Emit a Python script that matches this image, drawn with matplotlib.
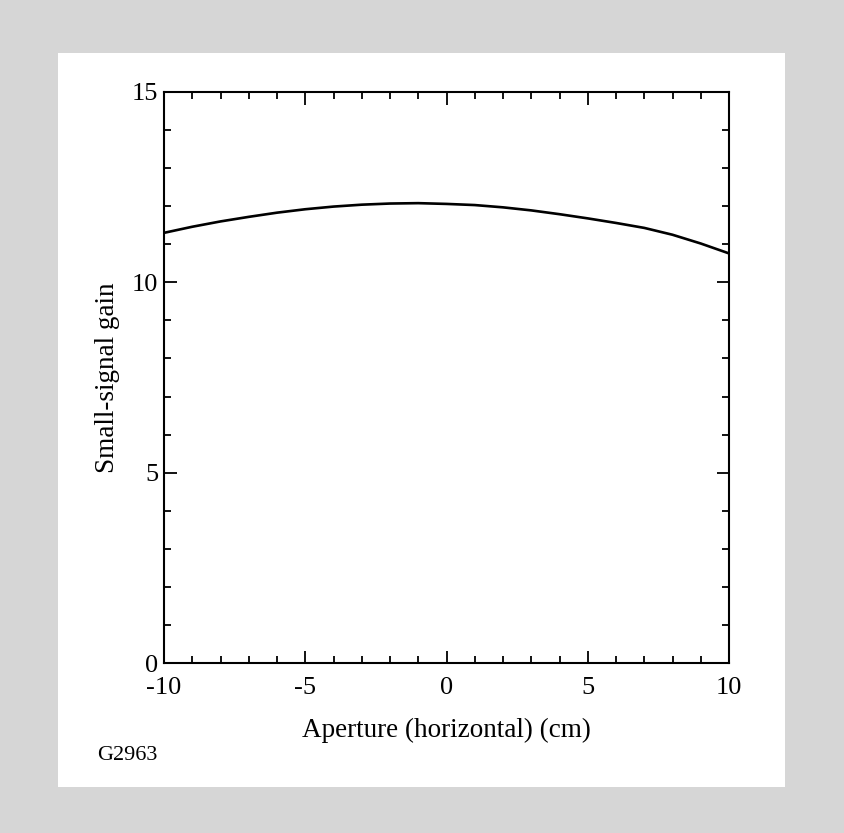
import matplotlib.pyplot as plt
from matplotlib.patches import Rectangle
from matplotlib.ticker import MultipleLocator

# aperture position (cm) and small-signal gain
aperture = [-10, -9, -8, -7, -6, -5, -4, -3, -2, -1, 0,
            1, 2, 3, 4, 5, 6, 7, 8, 9, 10]
gain = [11.30, 11.46, 11.60, 11.72, 11.83, 11.92, 11.99, 12.04, 12.07, 12.08, 12.06,
        12.03, 11.97, 11.89, 11.79, 11.68, 11.56, 11.43, 11.25, 11.02, 10.76]

x_ticks = [-10, -5, 0, 5, 10]
y_ticks = [0, 5, 10, 15]

plt.rcParams['font.family'] = ['Liberation Serif', 'DejaVu Serif']

W, H = 844, 833
fig = plt.figure(figsize=(W / 100, H / 100), dpi=100)
fig.patch.set_facecolor('#d6d6d6')
# white paper area inside the scanned grey frame
fig.patches.append(Rectangle((58 / W, 1 - 787 / H), (785 - 58) / W, (787 - 53) / H,
                             transform=fig.transFigure, facecolor='white',
                             edgecolor='none', zorder=-10))

ax = fig.add_axes([164 / W, 1 - 663 / H, (729 - 164) / W, (663 - 92) / H])
ax.set_facecolor('white')
ax.plot(aperture, gain, color='black', lw=1.9)

ax.set_xlim(-10, 10)
ax.set_ylim(0, 15)
ax.set_xticks(x_ticks)
ax.set_yticks(y_ticks)
ax.set_xticklabels([str(v) for v in x_ticks])
ax.xaxis.set_minor_locator(MultipleLocator(1))
ax.yaxis.set_minor_locator(MultipleLocator(1))
ax.tick_params(which='both', direction='in', top=True, right=True, width=1.3,
               labelsize=19, color='black')
ax.tick_params(axis='x', which='major', length=9, pad=10)
ax.tick_params(axis='y', which='major', length=9, pad=4)
ax.tick_params(which='minor', length=5)
for s in ax.spines.values():
    s.set_linewidth(1.5)

ax.set_xlabel('Aperture (horizontal) (cm)', fontsize=19.5, labelpad=14)
ax.set_ylabel('Small-signal gain', fontsize=19.5, labelpad=9)

fig.text(97 / W, 1 - 756 / H, 'G2963', fontsize=16, va='center', ha='left')

fig.savefig('out.png', dpi=100, facecolor=fig.get_facecolor())
